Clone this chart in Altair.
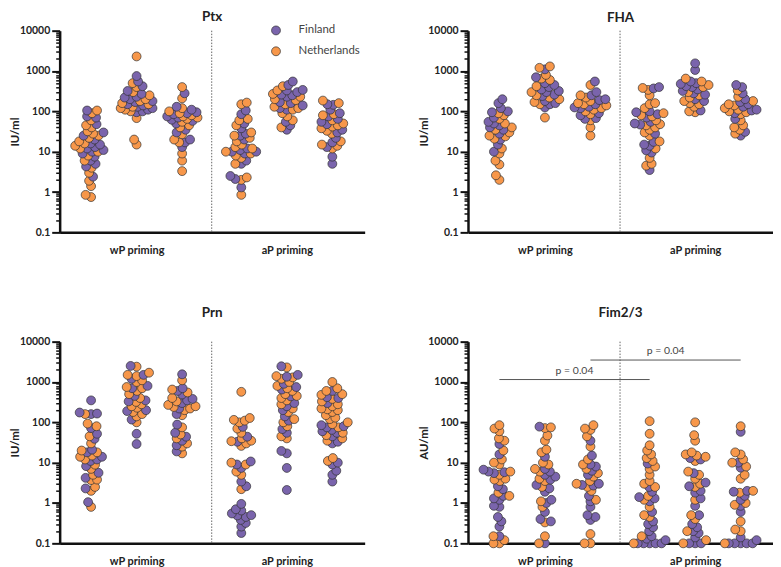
import altair as alt
import numpy as np
import pandas as pd

# ---------------- data ----------------
PANELS = ["Ptx", "FHA", "Prn", "Fim2/3"]
Y_TITLES = ["IU/ml", "IU/ml", "IU/ml", "AU/ml"]
COUNTRIES = ["Finland", "Netherlands"]
COLORS = ["#7A64AC", "#F7974A"]
PRIMING = ["wP priming", "aP priming"]

PTX_FIN = [
    [105, 75, 70, 48, 30, 25, 20, 16, 15, 13, 12, 11, 10, 9, 7.5, 6, 5, 4.3, 2.4],
    [750, 550, 420, 320, 270, 230, 220, 200, 180, 170, 150, 140, 130, 120, 110, 100, 95],
    [280, 130, 110, 95, 90, 85, 75, 70, 62, 58, 50, 35, 30, 20, 17, 13],
    [105, 85, 50, 38, 28, 25, 20, 12, 11, 10, 10, 9, 6, 5, 2.5, 2.1, 1.3],
    [550, 450, 340, 330, 300, 260, 250, 230, 170, 160, 140, 120, 110, 55, 45, 35],
    [150, 145, 110, 90, 75, 65, 55, 48, 35, 30, 22, 17, 13, 7.5, 5],
]
PTX_NED = [
    [105, 90, 60, 45, 40, 32, 28, 25, 22, 18, 16, 14, 12, 10, 8, 6, 4, 3, 1.9, 1.4, 0.85, 0.75],
    [2300, 500, 400, 300, 250, 200, 180, 160, 150, 130, 120, 110, 100, 68, 20, 15],
    [400, 210, 120, 100, 90, 80, 75, 70, 65, 55, 45, 40, 27, 20, 17, 9, 6, 3.3],
    [165, 150, 65, 60, 45, 30, 25, 22, 18, 15, 13, 12, 10, 9, 8, 7, 5, 2.3, 2, 0.85],
    [420, 330, 270, 230, 200, 190, 150, 130, 120, 110, 90, 75, 60, 40],
    [185, 160, 85, 80, 60, 50, 45, 42, 38, 33, 28, 18, 15, 14, 12],
]
FHA_FIN = [
    [200, 160, 120, 100, 95, 70, 55, 50, 45, 40, 35, 28, 20, 15, 10],
    [1100, 700, 500, 450, 400, 350, 320, 300, 260, 240, 180, 160, 150, 125],
    [550, 300, 250, 200, 190, 150, 130, 125, 120, 90, 80, 68, 65],
    [400, 370, 100, 95, 85, 70, 55, 50, 47, 28, 17.5, 15, 14, 10.8, 9.5, 3.5],
    [1550, 1060, 550, 500, 480, 420, 400, 350, 320, 280, 260, 200, 180, 105],
    [450, 400, 280, 200, 170, 150, 130, 110, 105, 90, 65, 31, 25],
]
FHA_NED = [
    [90, 80, 65, 50, 40, 35, 30, 25, 24, 21, 12, 9, 6, 4.8, 2.6, 2.0],
    [1300, 1200, 800, 650, 600, 420, 300, 250, 220, 200, 170, 150, 70],
    [450, 250, 220, 180, 160, 150, 140, 120, 110, 100, 85, 60, 40, 25],
    [380, 340, 250, 160, 150, 120, 90, 80, 75, 60, 48, 45, 40, 35, 30, 25, 18, 12, 7, 5, 4.5],
    [650, 550, 450, 400, 300, 250, 220, 180, 160, 150, 130, 100, 95],
    [330, 230, 180, 150, 140, 120, 110, 100, 95, 85, 60, 45, 40, 35, 28],
]
PRN_FIN = [
    [350, 175, 165, 160, 72, 52, 39, 21, 18, 14, 12, 11, 8.2, 5.6, 4.2, 2.3, 1.05],
    [2500, 1500, 1200, 800, 700, 450, 350, 330, 200, 190, 117, 52, 29],
    [1550, 700, 600, 490, 380, 350, 300, 220, 160, 88, 55, 44, 35, 27, 19],
    [77, 44, 33, 10.7, 9, 7.4, 3.4, 2.6, 0.95, 0.7, 0.65, 0.55, 0.5, 0.49, 0.45, 0.38, 0.32, 0.26, 0.18],
    [2450, 1500, 1350, 900, 750, 650, 440, 300, 250, 200, 140, 110, 68, 55, 19.5, 17, 7.4, 2.1],
    [600, 420, 400, 300, 85, 80, 75, 65, 60, 55, 45, 33, 30, 10, 9, 6.3, 5, 3.4],
]
PRN_NED = [
    [160, 93, 80, 45, 30, 20, 18, 15, 14, 12, 8.9, 7, 5, 3.7, 3.8, 2.5, 2, 0.8],
    [2400, 1700, 1500, 1400, 1100, 1000, 750, 700, 600, 500, 400, 320, 280, 250, 230, 180, 160, 140, 100],
    [1100, 650, 550, 400, 330, 270, 250, 240, 220, 200, 150, 75, 50, 40, 30, 25, 17],
    [570, 128, 115, 110, 100, 70, 55, 40, 35, 34, 30, 26, 10, 9, 6, 5, 2.2],
    [2300, 1400, 1300, 1200, 1000, 800, 700, 600, 500, 450, 400, 350, 280, 220, 180, 120, 100, 80, 45, 40],
    [1000, 700, 600, 500, 480, 380, 330, 280, 250, 220, 210, 200, 180, 150, 130, 120, 100, 90, 75, 55, 48, 40, 35, 13, 11],
]
FIM_FIN = [
    [29, 16, 6.7, 6, 5.8, 5.5, 2.6, 2.2, 1.5, 1.3, 1.2, 0.85, 0.8, 0.45, 0.35, 0.26, 0.15],
    [78, 14, 7, 6, 5, 4.5, 3.8, 2.8, 2.3, 1.9, 1.2, 1.0, 0.6, 0.4, 0.35, 0.1],
    [35, 15, 9, 8, 6.3, 5, 3, 2.8, 2.7, 1.5, 1.1, 0.8, 0.5, 0.45, 0.38],
    [9.5, 2.5, 1.9, 1.4, 1.3, 1.1, 0.6, 0.35, 0.3, 0.25, 0.2, 0.15, 0.13, 0.12, 0.1, 0.1, 0.1, 0.1, 0.1],
    [13, 12, 5.5, 3.2, 2.6, 2, 1.8, 1.3, 0.85, 0.5, 0.3, 0.25, 0.2, 0.18, 0.14, 0.1, 0.1, 0.1],
    [58, 10, 7.5, 2, 1.9, 1.5, 1.2, 0.85, 0.6, 0.14, 0.12, 0.1, 0.1, 0.1, 0.1, 0.1],
]
FIM_NED = [
    [85, 70, 60, 40, 35, 20, 12, 10, 9, 6, 5, 4, 3.8, 3.5, 1.8, 1.5, 0.15, 0.12, 0.1, 0.1],
    [75, 72, 47, 35, 21, 18, 10, 9, 7, 6, 4, 3.5, 2.5, 1.1, 0.8, 0.33, 0.15, 0.1],
    [85, 70, 65, 45, 25, 12, 9, 7, 5.5, 4.5, 3.5, 3, 2.5, 2, 1.2, 0.17, 0.1, 0.1],
    [107, 52, 27, 20, 16, 13, 11, 8, 7, 5, 3.5, 3, 2.5, 1.5, 1.2, 0.8, 0.5, 0.45, 0.15, 0.1],
    [100, 48, 35, 18, 16, 15, 14, 11, 6, 5, 4, 3, 2.5, 1.2, 0.5, 0.4, 0.2, 0.12, 0.1],
    [80, 18, 16, 12, 10, 8, 5, 4, 2, 1.8, 1, 0.9, 0.35, 0.22, 0.2, 0.1],
]
DATA = {
    "Ptx": (PTX_FIN, PTX_NED),
    "FHA": (FHA_FIN, FHA_NED),
    "Prn": (PRN_FIN, PRN_NED),
    "Fim2/3": (FIM_FIN, FIM_NED),
}

# significance brackets in the Fim2/3 panel (group number from, to, height)
BRACKET_FROM = [1, 3]
BRACKET_TO = [4, 6]
BRACKET_Y = [1150, 3500]
BRACKET_TEXT = ["p = 0.04", "p = 0.04"]

# ---------------- layout ----------------
W, H = 307, 203
N_GROUPS = 6
PER_PRIMING = 3
PRIMING_GAP = 0.3          # extra space between the two priming blocks (x units)
X_DOMAIN = [0.31, 7.01]
Y_DOMAIN = [0.1, 10000]


def gpos(g):
    """x position of group number g (1-based)."""
    return g + PRIMING_GAP * ((g - 1) // PER_PRIMING)


DIVIDER = (gpos(PER_PRIMING) + gpos(PER_PRIMING + 1)) / 2
GROUP_CENTERS = [gpos(2), gpos(5)]
PX_PER_UNIT = W / (X_DOMAIN[1] - X_DOMAIN[0])
PX_PER_DECADE = H / (np.log10(Y_DOMAIN[1]) - np.log10(Y_DOMAIN[0]))


def swarm(values, dmin=5.6, maxw=16.0, step=0.5):
    """Beeswarm offsets (in pixels) computed from the values."""
    ys = np.log10(np.asarray(values, float)) * PX_PER_DECADE
    order = np.argsort(ys, kind="stable")
    placed = []
    offs = np.zeros(len(ys))
    for n, i in enumerate(order):
        y = ys[i]
        best, best_score, best_fallback = None, -1, 0.0
        k = 0
        while k * step <= maxw:
            cands = [0.0] if k == 0 else ([k * step, -k * step] if n % 2 == 0 else [-k * step, k * step])
            found = False
            for dx in cands:
                score = min([np.hypot(dx - px, y - py) for px, py in placed] or [1e9])
                if score >= dmin:
                    best, found = dx, True
                    break
                if score > best_score:
                    best_score, best_fallback = score, dx
            if found:
                break
            k += 1
        if best is None:
            best = best_fallback
        offs[i] = best
        placed.append((best, y))
    rank = np.empty(len(ys), int)
    rank[order] = np.arange(len(ys))
    return offs, rank


rows = []
for pname in PANELS:
    fin, ned = DATA[pname]
    for g in range(N_GROUPS):
        vals = list(fin[g]) + list(ned[g])
        cts = [COUNTRIES[0]] * len(fin[g]) + [COUNTRIES[1]] * len(ned[g])
        offs, rank = swarm(vals)
        for v, c, o, r in zip(vals, cts, offs, rank):
            rows.append({"panel": pname, "group": g + 1, "country": c, "value": v,
                         "xpos": gpos(g + 1) + o / PX_PER_UNIT, "draw": r})
df = pd.DataFrame(rows)

Y_TICKS = [m * 10.0 ** e for e in range(-1, 4) for m in range(1, 10)] + [10000.0]
MAJOR = "abs(log(datum.value)/LN10 - round(log(datum.value)/LN10)) < 0.001"
FONT = "Lato"

x_label_expr = " : ".join(
    f"abs(datum.value - {c}) < 0.001 ? '{t}'" for c, t in zip(GROUP_CENTERS, PRIMING)
) + " : ''"

x_axis = alt.Axis(values=GROUP_CENTERS, labelExpr=x_label_expr, ticks=False, grid=False,
                  domainColor="#111111", domainWidth=2.5, labelFont=FONT, labelFontWeight="bold",
                  labelFontSize=11, labelColor="#222222", labelPadding=12, title=None)


def y_axis(title):
    return alt.Axis(values=Y_TICKS, labelExpr=f"{MAJOR} ? format(datum.value, '~g') : ''",
                    labelOverlap=False, grid=False, domainColor="#111111", domainWidth=2.5,
                    tickColor="#111111", tickSize=8,
                    tickWidth={"condition": {"test": MAJOR, "value": 2}, "value": 1.5},
                    tickDash={"condition": {"test": MAJOR, "value": []}, "value": [4, 20]},
                    labelFont=FONT, labelFontWeight="bold", labelFontSize=10.5,
                    labelColor="#222222", labelPadding=2,
                    title=title, titleFont=FONT, titleFontWeight="bold", titleFontSize=11.5,
                    titleColor="#222222", titlePadding=3, maxExtent=36, minExtent=36)


def panel(i, title_offset, with_legend):
    pname = PANELS[i]
    d = df[df.panel == pname]
    xs = alt.Scale(domain=X_DOMAIN, nice=False, zero=False)
    ys = alt.Scale(type="log", domain=Y_DOMAIN, nice=False)
    legend = alt.Legend(orient="none", legendX=212, legendY=-6, title=None, symbolType="circle",
                        symbolSize=80, symbolStrokeColor="#333333", symbolStrokeWidth=0.7,
                        symbolOpacity=1, labelFont=FONT, labelFontSize=11.5, labelColor="#444444",
                        labelOffset=17, rowPadding=8, padding=0) if with_legend else None
    pts = alt.Chart(d).mark_circle(size=80, opacity=1, stroke="#333333", strokeWidth=0.7).encode(
        x=alt.X("xpos:Q", scale=xs, axis=x_axis),
        y=alt.Y("value:Q", scale=ys, axis=y_axis(Y_TITLES[i])),
        color=alt.Color("country:N", scale=alt.Scale(domain=COUNTRIES, range=COLORS), legend=legend),
        order=alt.Order("draw:Q"),
    )
    div = alt.Chart(pd.DataFrame({"x": [DIVIDER]})).mark_rule(
        color="#666666", strokeDash=[1.5, 1.5], strokeWidth=1).encode(
        x=alt.X("x:Q", scale=xs, axis=x_axis))
    layers = [div, pts]
    if pname == "Fim2/3":
        br = pd.DataFrame({"x1": [gpos(g) for g in BRACKET_FROM], "x2": [gpos(g) for g in BRACKET_TO],
                           "y": BRACKET_Y, "label": BRACKET_TEXT})
        br["xm"] = (br["x1"] + br["x2"]) / 2
        layers.append(alt.Chart(br).mark_rule(color="#555555", strokeWidth=1).encode(
            x=alt.X("x1:Q", scale=xs, axis=x_axis), x2="x2:Q",
            y=alt.Y("y:Q", scale=ys, axis=y_axis(Y_TITLES[i]))))
        layers.append(alt.Chart(br).mark_text(dy=-9, font=FONT, fontSize=10.5, color="#444444").encode(
            x=alt.X("xm:Q", scale=xs, axis=x_axis),
            y=alt.Y("y:Q", scale=ys, axis=y_axis(Y_TITLES[i])), text="label:N"))
    return alt.layer(*layers).properties(
        width=W, height=H,
        title=alt.TitleParams(pname, font=FONT, fontSize=13.5, fontWeight="bold", color="#222222",
                              anchor="middle", offset=title_offset))


row1 = alt.hconcat(panel(0, 1, True), panel(1, 1, False), spacing=54).resolve_scale(
    color="independent").resolve_legend(color="independent")
row2 = alt.hconcat(panel(2, 17, False), panel(3, 17, False), spacing=54).resolve_scale(
    color="independent").resolve_legend(color="independent")
chart = alt.vconcat(row1, row2, spacing=51).resolve_scale(color="independent").resolve_legend(
    color="independent").properties(padding={"left": 2, "top": 0, "right": 0, "bottom": 0}
                                    ).configure_view(stroke=None)

chart.save("out.html", embed_options={"renderer": "svg", "actions": False})
